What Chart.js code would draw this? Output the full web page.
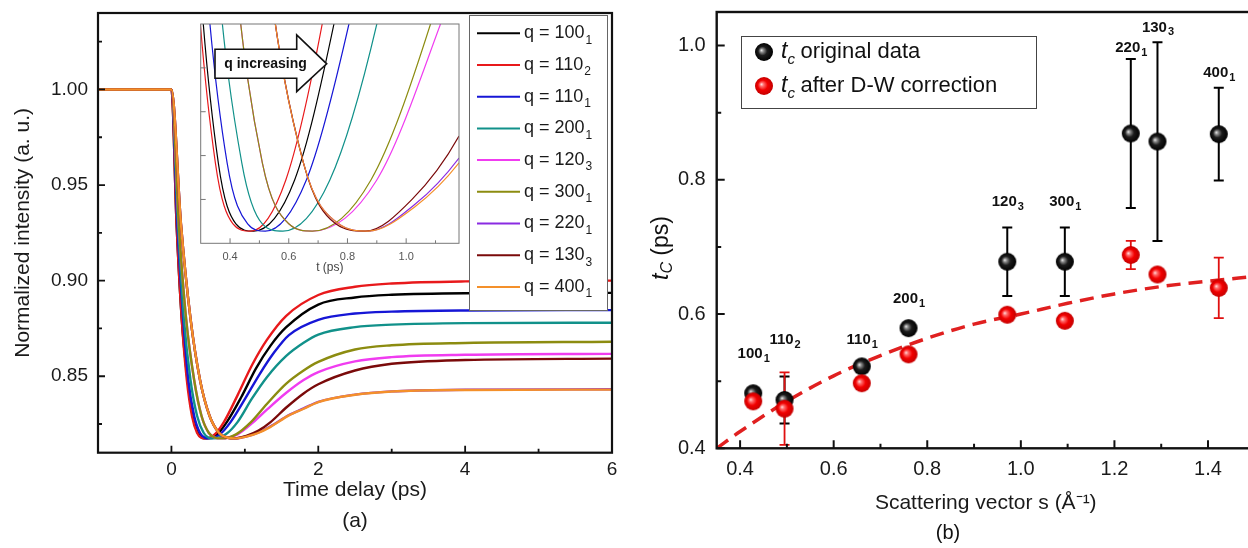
<!DOCTYPE html>
<html>
<head>
<meta charset="utf-8">
<script src="https://cdn.jsdelivr.net/npm/chart.js@4.4.1/dist/chart.umd.min.js"></script>
<style>
  html, body { margin: 0; padding: 0; background: #fff; overflow: hidden; }
  #wrap { position: relative; width: 1248px; height: 548px; overflow: hidden; }
  canvas { position: absolute; }
  #chartA { left: 0; top: 0; }
  #inset { left: 185px; top: 18px; }
  #chartB { left: 640px; top: 0; }
</style>
</head>
<body>
<div id="wrap">
  <canvas id="chartA" width="640" height="548"></canvas>
  <canvas id="inset" width="285" height="262"></canvas>
  <canvas id="chartB" width="640" height="548"></canvas>
</div>
<script>
'use strict';

// ---------- panel (a): normalized intensity vs time delay ----------
var qBase = ['100', '110', '110', '200', '120', '300', '220', '130', '400'];
var qSub = ['1', '2', '1', '1', '3', '1', '1', '3', '1'];
var qColors = ['#000000', '#e8191b', '#1616d6', '#11918a', '#f03cf0', '#8c8c10', '#8a2be2', '#7a0a0a', '#f4902a'];

var t_100_1 = [-1, 0, 0.07, 0.14, 0.22, 0.29, 0.36, 0.42, 0.48, 0.62, 0.754, 0.95, 1.15, 1.35, 1.56, 2.0, 2.5, 3.0, 4.0, 6.0];
var I_100_1 = [1, 1, 0.9296, 0.8801, 0.8479, 0.8292, 0.8203, 0.8178, 0.8175, 0.8196, 0.826, 0.839, 0.854, 0.866, 0.8755, 0.8875, 0.8912, 0.8926, 0.8934, 0.8936];

var t_110_2 = [-1, 0, 0.07, 0.14, 0.21, 0.28, 0.35, 0.41, 0.47, 0.59, 0.714, 0.9, 1.1, 1.3, 1.56, 2.0, 2.5, 3.0, 4.0, 6.0];
var I_110_2 = [1, 1, 0.9296, 0.8801, 0.8479, 0.8292, 0.8203, 0.8178, 0.8175, 0.8196, 0.826, 0.840, 0.856, 0.869, 0.8815, 0.8925, 0.8968, 0.8985, 0.8996, 0.900];

var t_110_1 = [-1, 0, 0.08, 0.16, 0.23, 0.31, 0.39, 0.46, 0.52, 0.66, 0.805, 1.0, 1.2, 1.4, 1.6, 2.0, 2.5, 3.0, 4.0, 6.0];
var I_110_1 = [1, 1, 0.9296, 0.8801, 0.8479, 0.8292, 0.8203, 0.8178, 0.8175, 0.8196, 0.826, 0.838, 0.851, 0.8625, 0.8715, 0.8795, 0.8828, 0.8838, 0.8844, 0.8846];

var t_200_1 = [-1, 0, 0.09, 0.17, 0.26, 0.35, 0.44, 0.51, 0.58, 0.74, 0.90, 1.1, 1.3, 1.56, 1.8, 2.0, 2.5, 3.0, 4.0, 6.0];
var I_200_1 = [1, 1, 0.9296, 0.8801, 0.8479, 0.8292, 0.8203, 0.8178, 0.8175, 0.8196, 0.826, 0.8385, 0.8495, 0.8605, 0.8675, 0.8718, 0.8757, 0.877, 0.8778, 0.878];

var t_120_3 = [-1, 0, 0.10, 0.20, 0.31, 0.41, 0.51, 0.60, 0.68, 0.90, 1.117, 1.3, 1.56, 1.8, 2.0, 2.5, 3.0, 4.0, 6.0];
var I_120_3 = [1, 1, 0.9296, 0.8801, 0.8479, 0.8292, 0.8203, 0.8178, 0.8175, 0.8196, 0.826, 0.8325, 0.8412, 0.848, 0.8522, 0.8578, 0.860, 0.8612, 0.8617];

var t_300_1 = [-1, 0, 0.10, 0.20, 0.31, 0.41, 0.51, 0.60, 0.68, 0.88, 1.083, 1.3, 1.56, 1.8, 2.0, 2.5, 3.0, 4.0, 6.0];
var I_300_1 = [1, 1, 0.9296, 0.8801, 0.8479, 0.8292, 0.8203, 0.8178, 0.8175, 0.8196, 0.826, 0.8355, 0.846, 0.853, 0.8575, 0.864, 0.8662, 0.8674, 0.868];

var t_220_1 = [-1, 0, 0.13, 0.26, 0.39, 0.52, 0.65, 0.77, 0.87, 1.03, 1.18, 1.35, 1.6, 1.8, 2.0, 2.5, 3.0, 4.0, 6.0];
var I_220_1 = [1, 1, 0.9296, 0.8801, 0.8479, 0.8292, 0.8203, 0.8178, 0.8175, 0.8186, 0.8205, 0.8238, 0.8297, 0.8332, 0.8366, 0.8404, 0.8421, 0.8429, 0.8432];

var t_130_3 = [-1, 0, 0.13, 0.26, 0.39, 0.52, 0.65, 0.76, 0.86, 1.02, 1.18, 1.35, 1.56, 1.8, 2.0, 2.5, 3.0, 4.0, 6.0];
var I_130_3 = [1, 1, 0.9296, 0.8801, 0.8479, 0.8292, 0.8203, 0.8178, 0.8175, 0.8188, 0.8214, 0.826, 0.8335, 0.841, 0.8458, 0.853, 0.8565, 0.8585, 0.8592];

var t_400_1 = [-1, 0, 0.13, 0.26, 0.39, 0.52, 0.65, 0.77, 0.87, 1.03, 1.18, 1.35, 1.6, 1.8, 2.0, 2.5, 3.0, 4.0, 6.0];
var I_400_1 = [1, 1, 0.9296, 0.8801, 0.8479, 0.8292, 0.8203, 0.8178, 0.8175, 0.8185, 0.8203, 0.8235, 0.8295, 0.833, 0.8365, 0.8403, 0.842, 0.8428, 0.843];

var timeSeries = [t_100_1, t_110_2, t_110_1, t_200_1, t_120_3, t_300_1, t_220_1, t_130_3, t_400_1];
var intensitySeries = [I_100_1, I_110_2, I_110_1, I_200_1, I_120_3, I_300_1, I_220_1, I_130_3, I_400_1];

var xTicksA = [0, 2, 4, 6];
var xMinorA = [1, 3, 5];
var yTicksA = [0.85, 0.90, 0.95, 1.00];
var yMinorA = [0.825, 0.875, 0.925, 0.975, 1.025];

var xTicksInset = [0.4, 0.6, 0.8, 1.0];
var xMinorInset = [0.5, 0.7, 0.9, 1.1];
var yMinorInset = [0.8188, 0.8206, 0.8224, 0.8242];

// ---------- panel (b): crossing time vs scattering vector ----------
var hklBase = ['100', '110', '110', '200', '120', '300', '220', '130', '400'];
var hklSub = ['1', '2', '1', '1', '3', '1', '1', '3', '1'];
var sVec = [0.428, 0.495, 0.66, 0.76, 0.971, 1.094, 1.235, 1.292, 1.423];
var tcOrig = [0.482, 0.472, 0.522, 0.579, 0.678, 0.678, 0.869, 0.857, 0.868];
var tcOrigErr = [0.008, 0.035, 0.008, 0, 0.051, 0.051, 0.111, 0.148, 0.069];
var tcDW = [0.470, 0.459, 0.497, 0.540, 0.599, 0.590, 0.688, 0.659, 0.639];
var tcDWErr = [0.008, 0.054, 0.008, 0.006, 0.006, 0.008, 0.021, 0.006, 0.045];
var labelTc = [0.541, 0.561, 0.561, 0.623, 0.767, 0.767, 0.997, 1.027, 0.959];
var fitS = [0.35, 0.4, 0.5, 0.6, 0.7, 0.8, 0.9, 1.0, 1.1, 1.2, 1.3, 1.4, 1.5];
var fitTc = [0.400, 0.425, 0.470, 0.508, 0.538, 0.564, 0.585, 0.600, 0.616, 0.630, 0.641, 0.649, 0.656];

var xTicksB = [0.4, 0.6, 0.8, 1.0, 1.2, 1.4];
var xMinorB = [0.5, 0.7, 0.9, 1.1, 1.3, 1.5];
var yTicksB = [0.4, 0.6, 0.8, 1.0];
var yMinorB = [0.5, 0.7, 0.9];

Chart.defaults.font.family = 'Arial, "Liberation Sans", sans-serif';
Chart.defaults.color = '#1a1a1a';

function setTicks(list) {
    return function(scale) {
        scale.ticks = list.map(function(v) { return { value: v }; });
    };
}

// fixed axis box size, and no extra label padding pushed into the layout
function fixSize(w, h) {
    return function(scale) {
        if (w !== null) scale.width = w;
        if (h !== null) scale.height = h;
        scale.paddingTop = 0;
        scale.paddingBottom = 0;
        scale.paddingLeft = 0;
        scale.paddingRight = 0;
    };
}

// text with a lowered subscript, e.g. 100 + "1"
function drawSub(ctx, x, y, base, sub, font, subFont, subDy, align) {
    ctx.font = font;
    var w1 = ctx.measureText(base).width;
    ctx.font = subFont;
    var w2 = ctx.measureText(sub).width;
    var x0 = align === 'center' ? x - (w1 + w2) / 2 : x;
    ctx.textAlign = 'left';
    ctx.textBaseline = 'middle';
    ctx.font = font;
    ctx.fillText(base, x0, y);
    ctx.font = subFont;
    ctx.fillText(sub, x0 + w1 + 1, y + subDy);
}

// box frame with inward ticks, placed through the chart scales
var frameTicks = {
    id: 'frameTicks',
    afterDatasetsDraw: function(chart, args, o) {
        var ctx = chart.ctx, a = chart.chartArea;
        var xs = chart.scales.x, ys = chart.scales.y;
        ctx.save();
        ctx.strokeStyle = o.color;
        ctx.lineWidth = o.tickWidth;
        ctx.beginPath();
        o.xMajor.forEach(function(v) {
            var px = xs.getPixelForValue(v);
            ctx.moveTo(px, a.bottom); ctx.lineTo(px, a.bottom - o.major);
        });
        o.xMinor.forEach(function(v) {
            var px = xs.getPixelForValue(v);
            ctx.moveTo(px, a.bottom); ctx.lineTo(px, a.bottom - o.minor);
        });
        o.yMajor.forEach(function(v) {
            var py = ys.getPixelForValue(v);
            ctx.moveTo(a.left, py); ctx.lineTo(a.left + o.major, py);
        });
        o.yMinor.forEach(function(v) {
            var py = ys.getPixelForValue(v);
            ctx.moveTo(a.left, py); ctx.lineTo(a.left + o.minor, py);
        });
        ctx.stroke();
        ctx.lineWidth = o.width;
        ctx.strokeRect(a.left, a.top, a.right - a.left, a.bottom - a.top);
        ctx.restore();
    }
};

var qLegend = {
    id: 'qLegend',
    afterDraw: function(chart) {
        var ctx = chart.ctx;
        ctx.save();
        ctx.fillStyle = '#fff';
        ctx.fillRect(470, 15, 138, 295);
        ctx.strokeStyle = '#666';
        ctx.lineWidth = 1;
        ctx.strokeRect(469.5, 15.5, 138, 295);
        chart.data.datasets.forEach(function(ds, i) {
            var y = 33.3 + i * 31.7;
            ctx.strokeStyle = ds.borderColor;
            ctx.lineWidth = 2;
            ctx.beginPath();
            ctx.moveTo(477, y); ctx.lineTo(520, y);
            ctx.stroke();
            ctx.fillStyle = '#1a1a1a';
            drawSub(ctx, 524, y, 'q = ' + qBase[i], qSub[i], '18px Arial', '12px Arial', 7, 'left');
        });
        ctx.restore();
    }
};

var arrowNote = {
    id: 'arrowNote',
    afterDatasetsDraw: function(chart) {
        var ctx = chart.ctx;
        ctx.save();
        ctx.beginPath();
        ctx.moveTo(30, 31.3);
        ctx.lineTo(111.7, 31.3);
        ctx.lineTo(111.7, 17);
        ctx.lineTo(141.7, 45.8);
        ctx.lineTo(111.7, 73.7);
        ctx.lineTo(111.7, 60.3);
        ctx.lineTo(30, 60.3);
        ctx.closePath();
        ctx.fillStyle = '#fff';
        ctx.fill();
        ctx.strokeStyle = '#111';
        ctx.lineWidth = 1.6;
        ctx.stroke();
        ctx.fillStyle = '#111';
        ctx.font = 'bold 14px Arial';
        ctx.textAlign = 'center';
        ctx.textBaseline = 'middle';
        ctx.fillText('q increasing', 80.5, 46);
        ctx.restore();
    }
};

function curveData(width) {
    return qBase.map(function(b, i) {
        return {
            label: 'q = ' + b + qSub[i],
            data: timeSeries[i].map(function(t, k) { return { x: t, y: intensitySeries[i][k] }; }),
            borderColor: qColors[i],
            backgroundColor: qColors[i],
            borderWidth: width,
            pointRadius: 0,
            cubicInterpolationMode: 'monotone',
            order: qBase.length - i
        };
    });
}

new Chart(document.getElementById('chartA'), {
    type: 'line',
    data: { datasets: curveData(2.4) },
    plugins: [frameTicks, qLegend],
    options: {
        responsive: false,
        animation: false,
        devicePixelRatio: 1,
        events: [],
        layout: { padding: { top: 13, right: 28, left: 0, bottom: 0 } },
        plugins: {
            legend: { display: false },
            tooltip: { enabled: false },
            frameTicks: {
                color: '#111', width: 2.2, tickWidth: 1.8, major: 7, minor: 4,
                xMajor: xTicksA, xMinor: xMinorA, yMajor: yTicksA, yMinor: yMinorA
            }
        },
        scales: {
            x: {
                type: 'linear', min: -1, max: 6,
                afterBuildTicks: setTicks(xTicksA),
                afterFit: fixSize(null, 95.3),
                grid: { display: false, drawTicks: false },
                border: { display: false },
                ticks: { font: { size: 19 }, padding: 6, callback: function(v) { return String(v); } },
                title: {
                    display: true, text: ['Time delay (ps)', '(a)'],
                    font: { size: 21, lineHeight: 1.45 }, padding: { top: 0, bottom: 12 }
                }
            },
            y: {
                type: 'linear', min: 0.81, max: 1.04,
                afterBuildTicks: setTicks(yTicksA),
                afterFit: fixSize(98, null),
                grid: { display: false, drawTicks: false },
                border: { display: false },
                ticks: { font: { size: 19 }, padding: 10, callback: function(v) { return v.toFixed(2); } },
                title: {
                    display: true, text: 'Normalized intensity (a. u.)',
                    font: { size: 21 }, padding: { top: 11, bottom: 0 }
                }
            }
        }
    }
});

new Chart(document.getElementById('inset'), {
    type: 'line',
    data: { datasets: curveData(1.2) },
    plugins: [frameTicks, arrowNote],
    options: {
        responsive: false,
        animation: false,
        devicePixelRatio: 1,
        events: [],
        layout: { padding: { top: 6, right: 11, left: 0, bottom: 0 } },
        plugins: {
            legend: { display: false },
            tooltip: { enabled: false },
            frameTicks: {
                color: '#777', width: 1, tickWidth: 1, major: 5, minor: 3,
                xMajor: xTicksInset, xMinor: xMinorInset, yMajor: yMinorInset, yMinor: []
            }
        },
        scales: {
            x: {
                type: 'linear', min: 0.3, max: 1.18,
                afterBuildTicks: setTicks(xTicksInset),
                afterFit: fixSize(null, 36.7),
                grid: { display: false, drawTicks: false },
                border: { display: false },
                ticks: { font: { size: 11 }, color: '#555', padding: 7, callback: function(v) { return v.toFixed(1); } },
                title: { display: true, text: 't (ps)', color: '#444', font: { size: 12 }, padding: { top: 0, bottom: 5 } }
            },
            y: {
                type: 'linear', min: 0.817, max: 0.826,
                afterBuildTicks: setTicks([]),
                afterFit: fixSize(15.7, null),
                grid: { display: false, drawTicks: false },
                border: { display: false },
                ticks: { display: false }
            }
        }
    }
});

// ---------- panel (b) ----------
function makeBall(r, stops) {
    var c = document.createElement('canvas');
    var s = Math.ceil(2 * r + 2);
    c.width = c.height = s;
    var g = c.getContext('2d');
    var cx = s / 2, cy = s / 2;
    var grad = g.createRadialGradient(cx - r * 0.3, cy - r * 0.2, 0, cx, cy, r);
    stops.forEach(function(st) { grad.addColorStop(st[0], st[1]); });
    g.fillStyle = grad;
    g.beginPath();
    g.arc(cx, cy, r, 0, Math.PI * 2);
    g.fill();
    return c;
}
var blackBall = makeBall(9, [[0, '#f4f4f4'], [0.2, '#8a8a8a'], [0.5, '#1c1c1c'], [1, '#000']]);
var redBall = makeBall(9, [[0, '#ffe4e4'], [0.22, '#ff6a6a'], [0.55, '#f20000'], [1, '#c40000']]);

var errorBars = {
    id: 'errorBars',
    beforeDatasetsDraw: function(chart) {
        var ctx = chart.ctx, x = chart.scales.x, y = chart.scales.y;
        function bars(vals, errs, color, w) {
            ctx.strokeStyle = color;
            ctx.lineWidth = w;
            ctx.beginPath();
            sVec.forEach(function(s, i) {
                if (!errs[i]) return;
                var px = x.getPixelForValue(s);
                var top = y.getPixelForValue(vals[i] + errs[i]);
                var bot = y.getPixelForValue(vals[i] - errs[i]);
                ctx.moveTo(px, top); ctx.lineTo(px, bot);
                ctx.moveTo(px - 5, top); ctx.lineTo(px + 5, top);
                ctx.moveTo(px - 5, bot); ctx.lineTo(px + 5, bot);
            });
            ctx.stroke();
        }
        ctx.save();
        bars(tcOrig, tcOrigErr, '#000', 2);
        bars(tcDW, tcDWErr, '#e01010', 1.8);
        ctx.restore();
    }
};

var hklLabels = {
    id: 'hklLabels',
    afterDatasetsDraw: function(chart) {
        var ctx = chart.ctx, x = chart.scales.x, y = chart.scales.y;
        ctx.save();
        ctx.fillStyle = '#111';
        sVec.forEach(function(s, i) {
            drawSub(ctx, x.getPixelForValue(s), y.getPixelForValue(labelTc[i]),
                hklBase[i], hklSub[i], 'bold 15px Arial', 'bold 11px Arial', 5, 'center');
        });
        ctx.restore();
    }
};

var legendB = {
    id: 'legendB',
    afterDraw: function(chart) {
        var ctx = chart.ctx;
        var rows = [[blackBall, 'original data', 52], [redBall, 'after D-W correction', 86]];
        ctx.save();
        ctx.fillStyle = '#fff';
        ctx.fillRect(101, 36, 295, 72);
        ctx.strokeStyle = '#444';
        ctx.lineWidth = 1;
        ctx.strokeRect(101.5, 36.5, 295, 72);
        rows.forEach(function(r) {
            var img = r[0], y = r[2];
            ctx.drawImage(img, 124 - img.width / 2, y - img.height / 2);
            ctx.fillStyle = '#111';
            ctx.textAlign = 'left';
            ctx.textBaseline = 'middle';
            ctx.font = 'italic 23px Arial';
            ctx.fillText('t', 141, y);
            var w = ctx.measureText('t').width;
            ctx.font = 'italic 15px Arial';
            ctx.fillText('c', 141 + w, y + 8);
            ctx.font = '22px Arial';
            ctx.fillText(r[1], 141 + w + 13, y);
        });
        ctx.restore();
    }
};

var textB = {
    id: 'textB',
    afterDraw: function(chart) {
        var ctx = chart.ctx;
        ctx.save();
        ctx.fillStyle = '#111';
        ctx.textBaseline = 'middle';
        // rotated y title: t_C (ps)
        ctx.translate(22, 248);
        ctx.rotate(-Math.PI / 2);
        ctx.font = 'italic 23px Arial';
        var w1 = ctx.measureText('t').width;
        ctx.font = 'italic 16px Arial';
        var w2 = ctx.measureText('C').width;
        ctx.font = '23px Arial';
        var w3 = ctx.measureText(' (ps)').width;
        var x0 = -(w1 + w2 + w3) / 2;
        ctx.textAlign = 'left';
        ctx.font = 'italic 23px Arial';
        ctx.fillText('t', x0, 0);
        ctx.font = 'italic 16px Arial';
        ctx.fillText('C', x0 + w1, 6);
        ctx.font = '23px Arial';
        ctx.fillText(' (ps)', x0 + w1 + w2, 0);
        ctx.setTransform(1, 0, 0, 1, 0, 0);
        ctx.textAlign = 'center';
        ctx.font = '20px Arial';
        ctx.fillText('(b)', 308, 533);
        ctx.restore();
    }
};

new Chart(document.getElementById('chartB'), {
    type: 'scatter',
    data: {
        datasets: [
            {
                label: 'tc after D-W correction',
                data: sVec.map(function(s, i) { return { x: s, y: tcDW[i] }; }),
                pointStyle: redBall, pointRadius: 9, order: 0
            },
            {
                label: 'tc original data',
                data: sVec.map(function(s, i) { return { x: s, y: tcOrig[i] }; }),
                pointStyle: blackBall, pointRadius: 9, order: 1
            },
            {
                type: 'line',
                label: 'fit',
                data: fitS.map(function(s, i) { return { x: s, y: fitTc[i] }; }),
                borderColor: '#e02020', borderWidth: 3.5, borderDash: [14, 8],
                pointRadius: 0, cubicInterpolationMode: 'monotone', order: 2
            }
        ]
    },
    plugins: [errorBars, frameTicks, hklLabels, legendB, textB],
    options: {
        responsive: false,
        animation: false,
        devicePixelRatio: 1,
        events: [],
        layout: { padding: { top: 12, right: 25.2, left: 0, bottom: 0 } },
        plugins: {
            legend: { display: false },
            tooltip: { enabled: false },
            frameTicks: {
                color: '#111', width: 2.4, tickWidth: 2, major: 8, minor: 4.5,
                xMajor: xTicksB, xMinor: xMinorB, yMajor: yTicksB, yMinor: yMinorB
            }
        },
        scales: {
            x: {
                type: 'linear', min: 0.35, max: 1.5,
                afterBuildTicks: setTicks(xTicksB),
                afterFit: fixSize(null, 99.7),
                grid: { display: false, drawTicks: false },
                border: { display: false },
                ticks: { font: { size: 20 }, padding: 9, callback: function(v) { return v.toFixed(1); } },
                title: { display: true, text: 'Scattering vector s (\u00c5\u207b\u00b9)', font: { size: 21 }, padding: { top: 0, bottom: 32 } }
            },
            y: {
                type: 'linear', min: 0.4, max: 1.05,
                afterBuildTicks: setTicks(yTicksB),
                afterFit: fixSize(76.7, null),
                grid: { display: false, drawTicks: false },
                border: { display: false },
                ticks: { font: { size: 20 }, padding: 11, callback: function(v) { return v.toFixed(1); } }
            }
        }
    }
});
</script>
</body>
</html>
